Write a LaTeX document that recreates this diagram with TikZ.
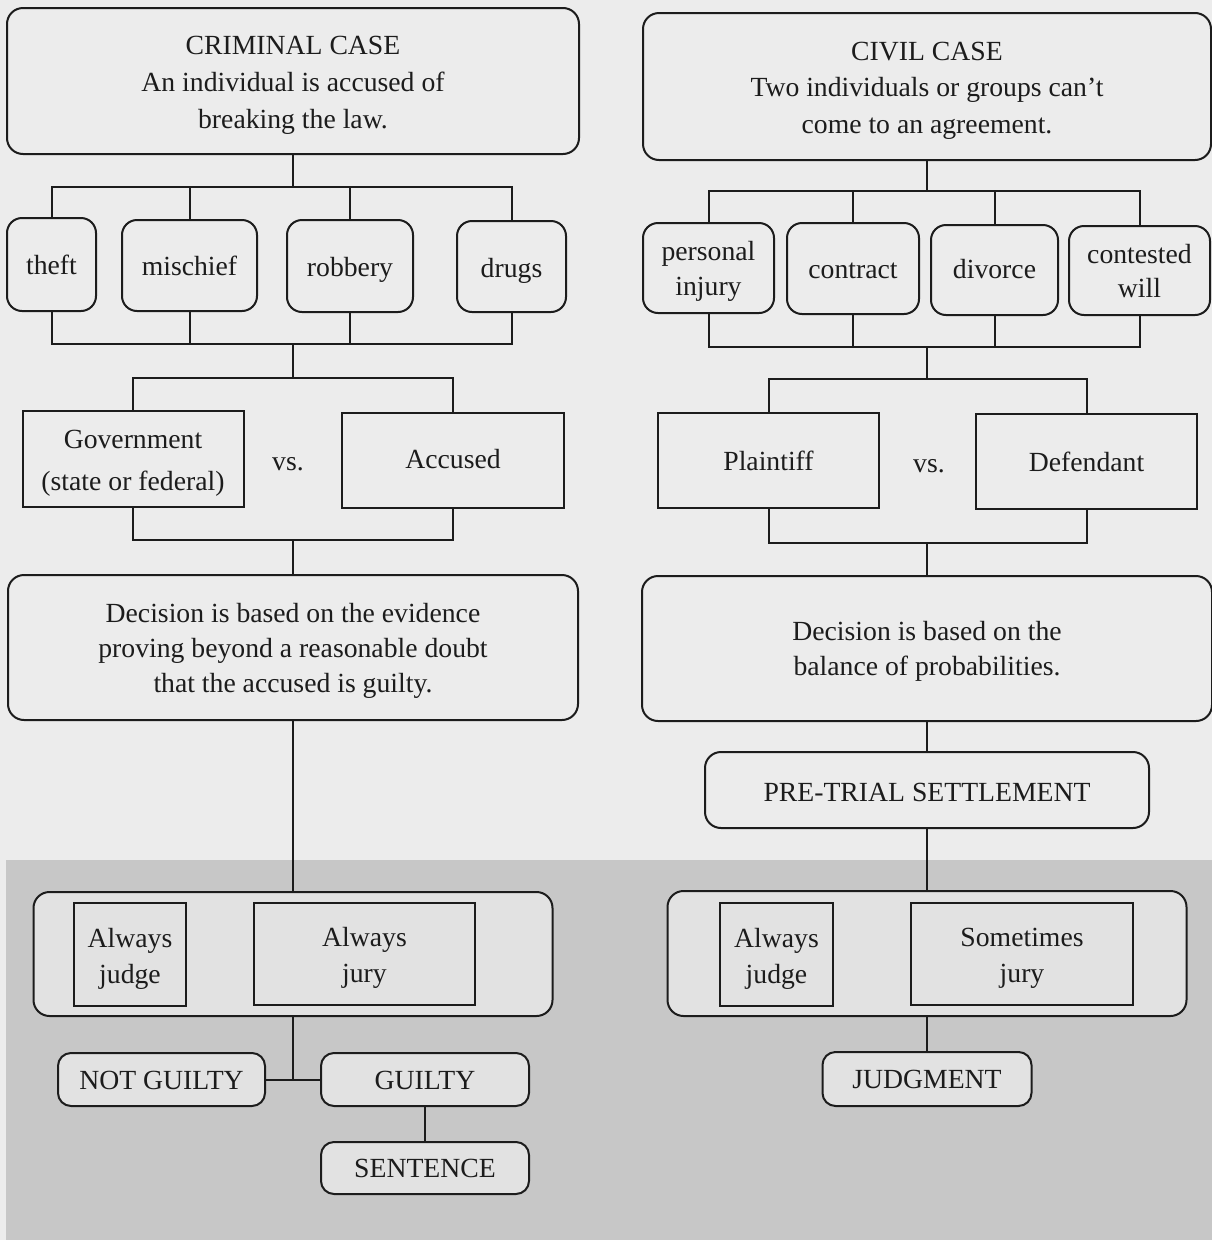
\documentclass[tikz,border=0pt]{standalone}
\usepackage{fontspec}
\setmainfont{Liberation Serif}
\definecolor{bglight}{RGB}{236,236,236}
\definecolor{bgdark}{RGB}{199,199,199}
\definecolor{boxfill}{RGB}{226,226,226}
\definecolor{ink}{RGB}{28,28,28}
\begin{document}
\begin{tikzpicture}[x=1pt,y=-1pt,
  every node/.style={inner sep=0pt, outer sep=0pt, text=ink, align=center,
    font=\fontsize{27.7}{36}\selectfont},
  bs/.style={font=\fontsize{27.7}{#1}\selectfont},
  th/.style={text height=#1, text depth=6pt},
  one/.style={text height=25pt, text depth=6pt},
  rbox/.style={draw=ink, line width=2pt, rounded corners=16pt},
  smallr/.style={draw=ink, line width=2pt, rounded corners=15pt},
  sbox/.style={draw=ink, line width=2pt},
  pill/.style={draw=ink, line width=2pt, rounded corners=13pt},
  wire/.style={draw=ink, line width=2pt},
  lowfill/.style={fill=boxfill}
]
\useasboundingbox (0,0) rectangle (1212,1240);
\fill[bglight] (0,0) rectangle (1212,1240);
\fill[bgdark] (6,860) rectangle (1212,1240);

% ---------------- criminal side ----------------
\node[rbox, bs=37, th=100pt, minimum width=572, minimum height=146] (crim) at (293,81)
  {CRIMINAL CASE\\An individual is accused of\\breaking the law.};
\node[smallr, th=26pt, minimum width=89, minimum height=93] (theft) at (51.5,264.5) {theft};
\node[smallr, th=25pt, minimum width=135, minimum height=91] (mis) at (189.5,265.5) {mischief};
\node[smallr, th=26pt, minimum width=126, minimum height=92] (rob) at (350,266) {robbery};
\node[smallr, th=27pt, minimum width=109, minimum height=91] (drugs) at (511.5,266.5) {drugs};

\node[sbox, bs=42, th=68pt, minimum width=221, minimum height=96] (gov) at (133,459)
  {Government\\(state or federal)};
\node[anchor=base] (vs1) at (288,470) {vs.};
\node[sbox, th=21pt, minimum width=222, minimum height=95] (acc) at (453,460.5) {Accused};

\node[rbox, bs=35, th=95pt, minimum width=570, minimum height=145] (dec1) at (293,647.5)
  {Decision is based on the evidence\\proving beyond a reasonable doubt\\that the accused is guilty.};

\node[rbox, lowfill, minimum width=519, minimum height=124] (alw1) at (293,954) {};
\node[sbox, lowfill, th=63pt, minimum width=112, minimum height=103] (judge1) at (130,954.5) {Always\\judge};
\node[sbox, lowfill, th=63pt, minimum width=221, minimum height=102] (jury1) at (364.5,954) {Always\\jury};

\node[pill, lowfill, one, minimum width=207, minimum height=53] (ng) at (161.5,1079.5) {NOT GUILTY};
\node[pill, lowfill, one, minimum width=208, minimum height=53] (gl) at (425,1079.5) {GUILTY};
\node[pill, lowfill, th=24pt, minimum width=208, minimum height=52] (sent) at (425,1168) {SENTENCE};

% ---------------- civil side ----------------
\node[rbox, bs=36.5, th=99pt, minimum width=568, minimum height=147] (civ) at (927,86.5)
  {CIVIL CASE\\Two individuals or groups can’t\\come to an agreement.};
\node[smallr, bs=35, th=60pt, minimum width=131, minimum height=90] (pi) at (708.5,268) {personal\\injury};
\node[smallr, th=25pt, minimum width=132, minimum height=91] (con) at (853,268.5) {contract};
\node[smallr, th=22pt, minimum width=127, minimum height=90] (div) at (994.5,270) {divorce};
\node[smallr, bs=34, th=59pt, minimum width=141, minimum height=89] (cw) at (1139.5,270.5) {contested\\will};

\node[sbox, one, minimum width=221, minimum height=95] (pl) at (768.5,460.5) {Plaintiff};
\node[anchor=base] (vs2) at (929,472) {vs.};
\node[sbox, one, minimum width=221, minimum height=95] (def) at (1086.5,461.5) {Defendant};

\node[rbox, bs=35, th=59pt, minimum width=570, minimum height=145] (dec2) at (927,648.5)
  {Decision is based on the\\balance of probabilities.};
\node[rbox, th=29pt, minimum width=444, minimum height=76] (pts) at (927,790) {PRE-TRIAL SETTLEMENT};

\node[rbox, lowfill, minimum width=519, minimum height=125] (alw2) at (927,953.5) {};
\node[sbox, lowfill, th=63pt, minimum width=113, minimum height=103] (judge2) at (776.5,954.5) {Always\\judge};
\node[sbox, lowfill, th=63pt, minimum width=222, minimum height=102] (jury2) at (1022,954) {Sometimes\\jury};

\node[pill, lowfill, th=24pt, minimum width=209, minimum height=54] (jdg) at (927,1079) {JUDGMENT};

% ---------------- connectors: criminal ----------------
\coordinate (b1) at (293,187);
\coordinate (b2) at (293,344);
\coordinate (b3) at (293,378);
\coordinate (b4) at (293,540);
\coordinate (b5) at (293,1079.5);
\draw[wire] (crim.south) -- (b1);
\draw[wire] (theft.north) |- (b1) -| (drugs.north);
\draw[wire] (mis.north) -- (mis.north |- b1);
\draw[wire] (rob.north) -- (rob.north |- b1);
\draw[wire] (theft.south) |- (b2) -| (drugs.south);
\draw[wire] (mis.south) -- (mis.south |- b2);
\draw[wire] (rob.south) -- (rob.south |- b2);
\draw[wire] (b2) -- (b3);
\draw[wire] (gov.north) |- (b3) -| (acc.north);
\draw[wire] (gov.south) |- (b4) -| (acc.south);
\draw[wire] (b4) -- (dec1.north);
\draw[wire] (dec1.south) -- (alw1.north);
\draw[wire] (alw1.south) -- (b5);
\draw[wire] (ng.east) -- (gl.west);
\draw[wire] (gl.south) -- (sent.north);

% ---------------- connectors: civil ----------------
\coordinate (c1) at (927,191);
\coordinate (c2) at (927,347);
\coordinate (c3) at (927,379);
\coordinate (c4) at (927,543);
\draw[wire] (civ.south) -- (c1);
\draw[wire] (pi.north) |- (c1) -| (cw.north);
\draw[wire] (con.north) -- (con.north |- c1);
\draw[wire] (div.north) -- (div.north |- c1);
\draw[wire] (pi.south) |- (c2) -| (cw.south);
\draw[wire] (con.south) -- (con.south |- c2);
\draw[wire] (div.south) -- (div.south |- c2);
\draw[wire] (c2) -- (c3);
\draw[wire] (pl.north) |- (c3) -| (def.north);
\draw[wire] (pl.south) |- (c4) -| (def.south);
\draw[wire] (c4) -- (dec2.north);
\draw[wire] (dec2.south) -- (pts.north);
\draw[wire] (pts.south) -- (alw2.north);
\draw[wire] (alw2.south) -- (jdg.north);
\end{tikzpicture}
\end{document}
